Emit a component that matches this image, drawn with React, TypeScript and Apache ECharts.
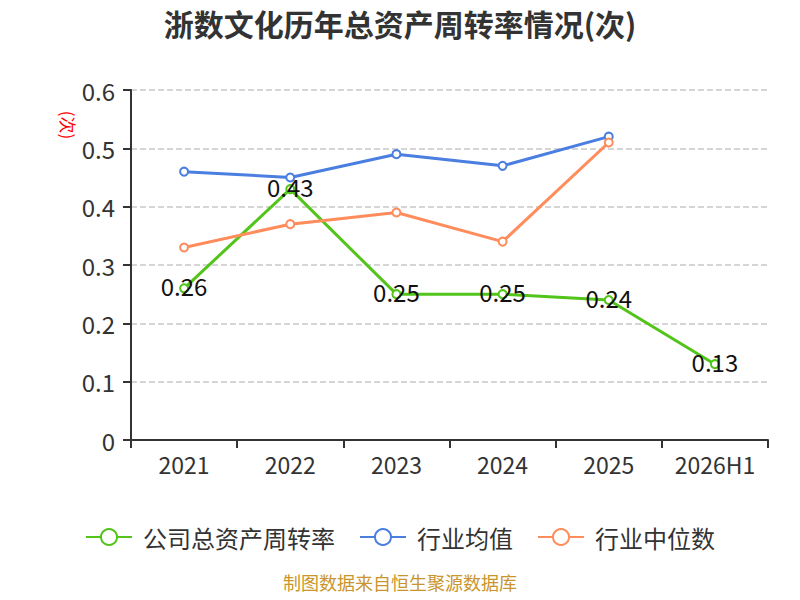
import { useEffect, useRef } from 'react';
import * as echarts from 'echarts';
import type { EChartsOption } from 'echarts';

const categories = ['2021', '2022', '2023', '2024', '2025', '2026H1'];
const companyTurnover = [0.26, 0.43, 0.25, 0.25, 0.24, 0.13];
const industryAvg = [0.46, 0.45, 0.49, 0.47, 0.52];
const industryMedian = [0.33, 0.37, 0.39, 0.34, 0.51];
const seriesNames = ['公司总资产周转率', '行业均值', '行业中位数'];

const FONT = '"Noto Sans CJK SC", "Noto Sans", sans-serif';

const App = () => {
  const chartRef = useRef<HTMLDivElement>(null);

  useEffect(() => {
    if (!chartRef.current) return;
    const chart = echarts.init(chartRef.current, undefined, { renderer: 'svg' });

    const option: EChartsOption = {
      animation: false,
      textStyle: { fontFamily: FONT },
      title: {
        text: '浙数文化历年总资产周转率情况(次)',
        left: 'center',
        top: 3,
        textStyle: { fontSize: 30, fontWeight: 'bold', color: '#333', fontFamily: FONT }
      },
      grid: { left: 131, right: 32, top: 90, bottom: 160 },
      legend: {
        data: seriesNames,
        bottom: 46,
        left: 'center',
        itemWidth: 46,
        itemHeight: 20,
        itemGap: 24,
        textStyle: { fontSize: 24, color: '#333', fontFamily: FONT, padding: [0, 0, 0, 6] }
      },
      graphic: [
        {
          type: 'text',
          x: 68,
          y: 125,
          rotation: -Math.PI / 2,
          style: {
            text: '(次)',
            fill: '#ff0000',
            fontSize: 17,
            fontFamily: FONT,
            align: 'center',
            verticalAlign: 'middle'
          }
        },
        {
          type: 'text',
          left: 'center',
          top: 573,
          style: {
            text: '制图数据来自恒生聚源数据库',
            fill: '#c9952c',
            fontSize: 18,
            fontFamily: FONT
          }
        }
      ],
      xAxis: {
        type: 'category',
        data: categories,
        boundaryGap: true,
        axisLine: { lineStyle: { color: '#333', width: 2 } },
        axisTick: { show: true, length: 8, lineStyle: { color: '#333', width: 2 } },
        axisLabel: { fontSize: 23, color: '#333', margin: 12, interval: 0, fontFamily: FONT }
      },
      yAxis: {
        type: 'value',
        min: 0,
        max: 0.6,
        interval: 0.1,
        axisLine: { show: true, lineStyle: { color: '#333', width: 2 } },
        axisTick: { show: true, length: 8, lineStyle: { color: '#333', width: 2 } },
        axisLabel: { fontSize: 24, color: '#333', margin: 16, fontFamily: FONT },
        splitLine: { lineStyle: { type: 'dashed', color: '#c8c8c8', width: 1.5 } }
      },
      series: [
        {
          name: seriesNames[0],
          type: 'line',
          data: companyTurnover,
          color: '#52c41a',
          symbol: 'emptyCircle',
          symbolSize: 8,
          lineStyle: { width: 3 },
          z: 3,
          label: {
            show: true,
            position: 'inside',
            offset: [0, -3],
            fontSize: 24,
            color: '#111',
            fontFamily: FONT
          }
        },
        {
          name: seriesNames[1],
          type: 'line',
          data: industryAvg,
          color: '#4a7ee0',
          symbol: 'emptyCircle',
          symbolSize: 8,
          lineStyle: { width: 3 }
        },
        {
          name: seriesNames[2],
          type: 'line',
          data: industryMedian,
          color: '#ff8c5a',
          symbol: 'emptyCircle',
          symbolSize: 8,
          lineStyle: { width: 3 }
        }
      ]
    };

    chart.setOption(option);
    return () => {
      chart.dispose();
    };
  }, []);

  return <div ref={chartRef} style={{ width: 800, height: 600, margin: -8 }} />;
};

export default App;
